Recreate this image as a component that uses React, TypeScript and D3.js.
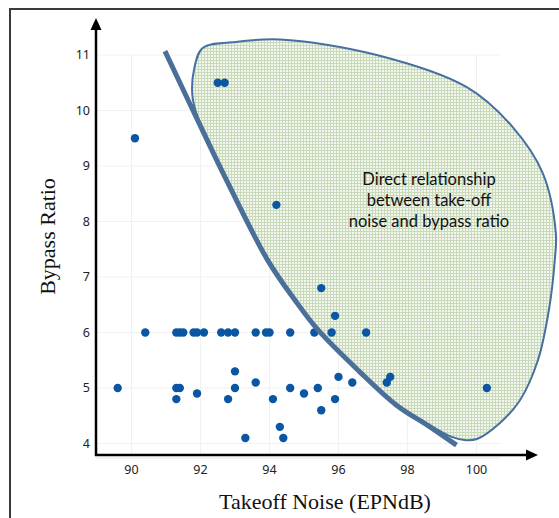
import React from "react";
import * as d3 from "d3";

// Scatter data: takeoff noise (EPNdB) vs bypass ratio
const noise = [
  90.1, 92.5, 92.7, 94.2, 95.5, 95.9,
  90.4, 91.3, 91.4, 91.5, 91.8, 91.9, 92.1, 92.6, 92.8, 93.0, 93.6, 93.9, 94.0, 94.6, 95.3, 95.8, 96.8,
  89.6, 91.3, 91.4, 93.0, 94.6, 95.4, 100.3,
  91.3, 92.8, 91.9, 93.0, 93.6, 93.3, 94.1, 95.0, 96.0, 96.4, 95.9, 95.5, 94.3, 94.4, 97.4, 97.5,
];
const bypass = [
  9.5, 10.5, 10.5, 8.3, 6.8, 6.3,
  6, 6, 6, 6, 6, 6, 6, 6, 6, 6, 6, 6, 6, 6, 6, 6, 6,
  5, 5, 5, 5, 5, 5, 5,
  4.8, 4.8, 4.9, 5.3, 5.1, 4.1, 4.8, 4.9, 5.2, 5.1, 4.8, 4.6, 4.3, 4.1, 5.1, 5.2,
];

// Boundary curve
const curveX = [90.97, 92.12, 92.75, 93.95, 94.73, 95.4, 96.6, 97.68, 98.65, 99.42];
const curveY = [11.07, 9.56, 8.75, 7.3, 6.59, 6.05, 5.3, 4.69, 4.3, 3.97];

// Highlighted region outline
const blobX = [92.12, 91.78, 91.81, 92.07, 92.94, 94.3, 97.11, 99.72, 101.05, 101.92, 102.3, 102.27, 102.1, 101.78, 101.26, 100.68, 100.01, 99.69, 99.28, 98.65, 97.68, 96.6, 95.4, 94.73, 93.95, 92.75];
const blobY = [9.56, 10.19, 10.73, 11.13, 11.23, 11.28, 11.0, 10.42, 9.7, 8.87, 7.79, 7.31, 6.41, 5.5, 4.78, 4.37, 4.08, 4.06, 4.12, 4.33, 4.69, 5.3, 6.05, 6.59, 7.3, 8.75];

const xTicks = [90, 92, 94, 96, 98, 100];
const yTicks = [4, 5, 6, 7, 8, 9, 10, 11];
const annotation = ["Direct relationship", "between take-off", "noise and bypass ratio"];

export default function App() {
  const W = 559, H = 518;
  const x = d3.scaleLinear().domain([89, 101]).range([97, 511]);
  const y = d3.scaleLinear().domain([3.8, 11]).range([454.6, 55]);
  const axX = 96, axY = 455;

  const linePath = d3
    .line<number>()
    .x((i) => x(curveX[i]))
    .y((i) => y(curveY[i]))
    .curve(d3.curveCatmullRom.alpha(0.5))(curveX.map((_, i) => i)) || "";

  const blobPath = d3
    .line<number>()
    .x((i) => x(blobX[i]))
    .y((i) => y(blobY[i]))
    .curve(d3.curveCatmullRomClosed.alpha(0.5))(blobX.map((_, i) => i)) || "";

  const tickFont = "'Noto Sans', 'Open Sans', sans-serif";
  const serif = "'Liberation Serif', 'Times New Roman', serif";

  return (
    <svg width={W} height={H} style={{ position: "absolute", left: 0, top: 0, background: "#fff" }}>
      <defs>
        <pattern id="grid" width="3" height="3" patternUnits="userSpaceOnUse">
          <rect width="3" height="3" fill="#f3f7ef" />
          <rect x="0" y="0" width="3" height="1" fill="#c8dab9" />
          <rect x="0" y="0" width="1" height="3" fill="#c8dab9" />
        </pattern>
      </defs>
      <rect x={10} y={9} width={W + 10} height={H + 10} fill="#fff" stroke="#3a3a3a" strokeWidth={2} />

      {/* faint gridlines */}
      {xTicks.map((t) => (
        <line key={"gx" + t} x1={x(t)} x2={x(t)} y1={y(11)} y2={axY} stroke="#f1f1f1" strokeWidth={1} />
      ))}
      {yTicks.map((t) => (
        <line key={"gy" + t} x1={axX} x2={x(100.7)} y1={y(t)} y2={y(t)} stroke="#f1f1f1" strokeWidth={1} />
      ))}
      <line x1={axX} x2={x(100.7)} y1={axY + 3} y2={axY + 3} stroke="#e4e4e4" strokeWidth={1} />

      {/* region */}
      <path d={blobPath} fill="url(#grid)" stroke="#46709f" strokeWidth={2} />

      {/* points */}
      {noise.map((v, i) => (
        <circle key={i} cx={x(v)} cy={y(bypass[i])} r={4.2} fill="#0b56a2" />
      ))}

      {/* boundary line */}
      <path d={linePath} fill="none" stroke="#4a6f98" strokeWidth={5} strokeLinecap="butt" />

      {/* axes */}
      <line x1={axX} x2={axX} y1={axY + 1} y2={28} stroke="#000" strokeWidth={2.5} />
      <path d={`M${axX - 5.5},${30} L${axX},${18} L${axX + 5.5},${30} Z`} fill="#000" />
      <line x1={axX - 1} x2={528} y1={axY} y2={axY} stroke="#000" strokeWidth={2.5} />
      <path d={`M${526},${axY - 5.5} L${538},${axY} L${526},${axY + 5.5} Z`} fill="#000" />

      {/* tick labels */}
      {yTicks.map((t) => (
        <text key={"ty" + t} x={90} y={y(t) + 4.3} textAnchor="end" fontFamily={tickFont} fontSize={12.5} fill="#222">
          {t}
        </text>
      ))}
      {xTicks.map((t) => (
        <text key={"tx" + t} x={x(t)} y={474} textAnchor="middle" fontFamily={tickFont} fontSize={12.5} fill="#222">
          {t}
        </text>
      ))}

      {/* axis titles */}
      <text x={325} y={509} textAnchor="middle" fontFamily={serif} fontSize={22} fill="#111">
        Takeoff Noise (EPNdB)
      </text>
      <text
        transform={`translate(55,236.5) rotate(-90)`}
        textAnchor="middle"
        fontFamily={serif}
        fontSize={22}
        fill="#111"
      >
        Bypass Ratio
      </text>

      {/* annotation */}
      {annotation.map((s, i) => (
        <text key={s} x={429} y={185 + i * 20.8} textAnchor="middle" fontFamily="Lato, 'Open Sans', sans-serif" fontSize={16.5} fill="#111">
          {s}
        </text>
      ))}
    </svg>
  );
}
